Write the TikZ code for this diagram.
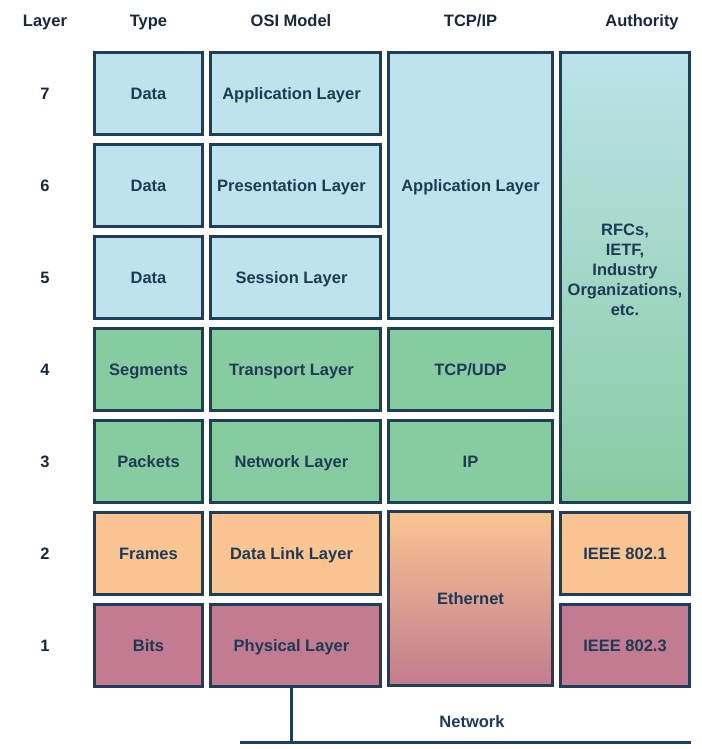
\documentclass[tikz,border=0pt]{standalone}
\usepackage{fontspec}
\setmainfont{Liberation Sans}
\definecolor{lblue}{RGB}{190,227,236}
\definecolor{lgreen}{RGB}{135,203,161}
\definecolor{lorange}{RGB}{250,197,146}
\definecolor{lmauve}{RGB}{194,123,144}
\definecolor{bordc}{RGB}{30,62,90}
\definecolor{txtc}{RGB}{30,58,86}
\definecolor{headc}{RGB}{24,40,60}
\newcommand{\ositext}[1]{\hbox{#1\kern8pt}}
\begin{document}
\begin{tikzpicture}[x=1pt,y=-1pt,
  cell/.style={draw=bordc, line width=2.6pt, inner sep=0pt,
    font=\bfseries\fontsize{16.5}{20}\selectfont, text=txtc,
    text height=11.8pt, text depth=0pt,
    minimum height=82.4pt},
  typec/.style={cell, minimum width=108.4pt},
  osic/.style={cell, minimum width=170.4pt},
  tcpc/.style={cell, minimum width=164.4pt},
  authc/.style={cell, minimum width=129.4pt},
  bluec/.style={fill=lblue},
  greenc/.style={fill=lgreen},
  orangec/.style={fill=lorange},
  mauvec/.style={fill=lmauve},
  head/.style={font=\bfseries\fontsize{16.5}{20}\selectfont, text=headc, inner sep=0pt,
    text height=11.8pt, text depth=0pt},
  netline/.style={draw=bordc, line width=3pt}
]
\useasboundingbox (0,0) rectangle (701,749);
\fill[white] (0,0) rectangle (701,749);

% headers
\node[head] (hlayer) at (45,21) {Layer};
\node[head] (htype) at (148.5,21) {Type};
\node[head] (hosi) at (291,21) {OSI Model};
\node[head] (htcp) at (470.5,21) {TCP/IP};
\node[head] (hauth) at (642,21) {Authority};

% layer numbers
\node[head] (n7) at (45,93.5) {7};
\node[head] (n6) at (45,185.5) {6};
\node[head] (n5) at (45,277.5) {5};
\node[head] (n4) at (45,369.5) {4};
\node[head] (n3) at (45,461.5) {3};
\node[head] (n2) at (45,553.5) {2};
\node[head] (n1) at (45,645.5) {1};

% type column
\node[typec,bluec] (t7) at (148.5,93.5) {Data};
\node[typec,bluec] (t6) at (148.5,185.5) {Data};
\node[typec,bluec] (t5) at (148.5,277.5) {Data};
\node[typec,greenc] (t4) at (148.5,369.5) {Segments};
\node[typec,greenc] (t3) at (148.5,461.5) {Packets};
\node[typec,orangec] (t2) at (148.5,553.5) {Frames};
\node[typec,mauvec] (t1) at (148.5,645.5) {Bits};

% OSI column
\node[osic,bluec] (o7) at (295.5,93.5) {\ositext{Application Layer}};
\node[osic,bluec] (o6) at (295.5,185.5) {\ositext{Presentation Layer}};
\node[osic,bluec] (o5) at (295.5,277.5) {\ositext{Session Layer}};
\node[osic,greenc] (o4) at (295.5,369.5) {\ositext{Transport Layer}};
\node[osic,greenc] (o3) at (295.5,461.5) {\ositext{Network Layer}};
\node[osic,orangec] (o2) at (295.5,553.5) {\ositext{Data Link Layer}};
\node[osic,mauvec] (o1) at (295.5,645.5) {\ositext{Physical Layer}};

% TCP/IP column
\node[tcpc,bluec,minimum height=266.4pt] (tapp) at (470.5,185.5) {Application Layer};
\node[tcpc,greenc] (ttcp) at (470.5,369.5) {TCP/UDP};
\node[tcpc,greenc] (tip) at (470.5,461.5) {IP};
\node[tcpc,minimum height=174.4pt,top color=lorange,bottom color=lmauve] (teth) at (470.5,598.5) {Ethernet};

% Authority column
\node[authc,minimum height=450.4pt,top color=lblue!97!lgreen,bottom color=lgreen] (aauth) at (625,277.5) {};
\node[align=center,inner sep=0pt,text=txtc,font=\bfseries\fontsize{16.5}{20}\selectfont] (atext) at (625,270) {RFCs,\\IETF,\\Industry\\Organizations,\\etc.};
\node[authc,orangec] (a2) at (625,553.5) {IEEE 802.1};
\node[authc,mauvec] (a1) at (625,645.5) {IEEE 802.3};

% network
\coordinate (netL) at (240,742);
\coordinate (netR) at (691,742);
\coordinate (netJ) at (291,742);
\draw[netline] (netJ |- o1.south) -- (netJ);
\draw[netline] (netL) -- (netR);
\node[head,text=txtc] (net) at (472,722) {Network};
\end{tikzpicture}
\end{document}
